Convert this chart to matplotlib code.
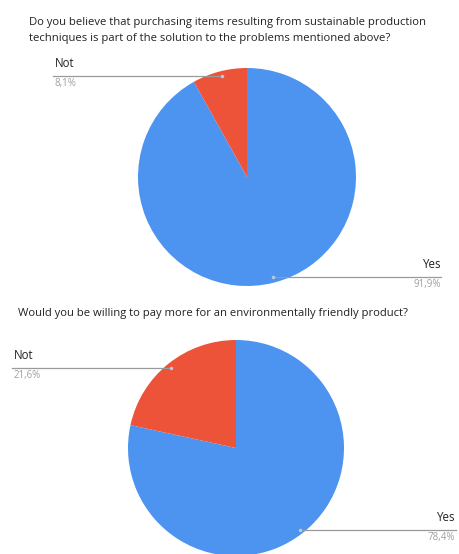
import matplotlib
matplotlib.use("Agg")
import matplotlib.pyplot as plt

plt.rcParams['font.family'] = ['Open Sans', 'DejaVu Sans']

# chart data
titles = [
    "Do you believe that purchasing items resulting from sustainable production\ntechniques is part of the solution to the problems mentioned above?",
    "Would you be willing to pay more for an environmentally friendly product?",
]
labels = ["Yes", "Not"]
values_1 = [91.9, 8.1]
values_2 = [78.4, 21.6]
pct_labels_1 = ["91,9%", "8,1%"]
pct_labels_2 = ["78,4%", "21,6%"]

colors = ["#4d94f0", "#ec5339"]
W, H = 460, 554


def y(px):
    return H - px


fig = plt.figure(figsize=(4.6, 5.54), dpi=100)
ax = fig.add_axes([0, 0, 1, 1])

# pies
ax.pie(values_1, colors=colors, startangle=90, counterclock=False,
       center=(247, y(177)), radius=109, frame=True)
ax.pie(values_2, colors=colors, startangle=90, counterclock=False,
       center=(236, y(448)), radius=108, frame=True)
ax.set_xlim(0, W)
ax.set_ylim(0, H)
ax.set_aspect('equal')
ax.axis('off')

# titles
ax.text(29, y(17), titles[0], fontsize=8.1, va='top', ha='left', linespacing=1.6, color='#222222')
ax.text(18, y(308), titles[1], fontsize=8.1, va='top', ha='left', color='#222222')


def callout(x0, x1, ly, dot_x, name, pct, ha, tx):
    ax.plot([x0, x1], [y(ly), y(ly)], color='#9a9a9a', lw=0.9)
    ax.plot(dot_x, y(ly), 'o', ms=1.5, color='#b8c8e8')
    ax.text(tx, y(ly - 6), name, fontsize=8.3, ha=ha, va='bottom', color='#222222')
    ax.text(tx, y(ly + 2), pct, fontsize=7, ha=ha, va='top', color='#a0a0a0')


callout(53, 222, 76, 222, labels[1], pct_labels_1[1], 'left', 55)
callout(273, 441, 277, 273, labels[0], pct_labels_1[0], 'right', 441)
callout(12, 171, 368, 171, labels[1], pct_labels_2[1], 'left', 14)
callout(300, 456, 530, 300, labels[0], pct_labels_2[0], 'right', 455)

fig.savefig("out.png", dpi=100)
